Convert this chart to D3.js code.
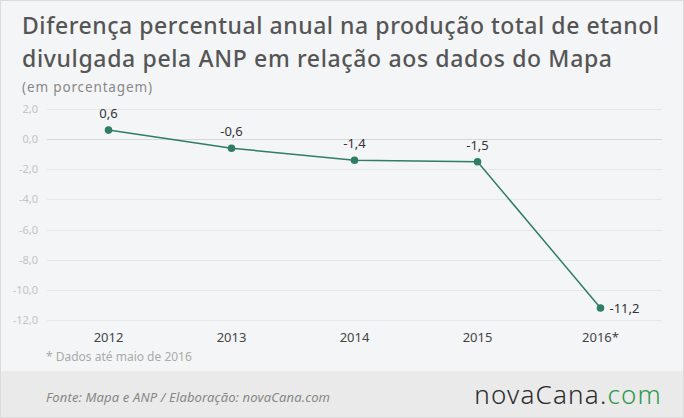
<!DOCTYPE html>
<meta charset="utf-8">
<style>
body { margin: 0; background: #fff; }
svg { display: block; font-family: "Noto Sans", sans-serif; }
.grid line { stroke: #e6e7e9; stroke-width: 1px; }
.grid line.zero { stroke: #d6d7d9; }
</style>
<body>
<svg width="684" height="418"></svg>
<script src="https://d3js.org/d3.v7.min.js"></script>
<script>
var svg = d3.select("svg"),
    width = +svg.attr("width"),
    height = +svg.attr("height");

// data
var years = ["2012", "2013", "2014", "2015", "2016*"];
var values = [0.6, -0.6, -1.4, -1.5, -11.2];
var labels = ["0,6", "-0,6", "-1,4", "-1,5", "-11,2"];
var yTicks = [2, 0, -2, -4, -6, -8, -10, -12];

var fmt = function(v) { return d3.format(".1f")(v).replace(".", ",").replace("−", "-"); };

// backgrounds
svg.append("rect")
    .attr("x", 0.5).attr("y", 0.5)
    .attr("width", width - 1).attr("height", height - 1)
    .style("fill", "#f4f5f7")
    .style("stroke", "#dcdcdc");

svg.append("rect")
    .attr("x", 1).attr("y", 371)
    .attr("width", width - 2).attr("height", height - 372)
    .style("fill", "#e9eae9");

// titles
var title = svg.append("text")
    .style("font-size", "23px")
    .style("font-weight", "500")
    .style("fill", "#555");
title.append("tspan").attr("x", 22).attr("y", 34)
    .attr("textLength", 637).attr("lengthAdjust", "spacing")
    .text("Diferença percentual anual na produção total de etanol");
title.append("tspan").attr("x", 22).attr("y", 67)
    .attr("textLength", 590).attr("lengthAdjust", "spacing")
    .text("divulgada pela ANP em relação aos dados do Mapa");

svg.append("text")
    .attr("x", 22).attr("y", 92)
    .attr("textLength", 130).attr("lengthAdjust", "spacing")
    .style("font-size", "13.5px")
    .style("fill", "#888")
    .text("(em porcentagem)");

// scales
var x = d3.scaleBand()
    .domain(years)
    .range([47, 662]);

var y = d3.scaleLinear()
    .domain([-12, 2])
    .range([320, 109]);

// gridlines
var grid = svg.append("g").attr("class", "grid");
grid.selectAll("line")
    .data(yTicks)
    .enter().append("line")
    .attr("class", function(d) { return d === 0 ? "zero" : null; })
    .attr("x1", 47).attr("x2", 662)
    .attr("y1", function(d) { return Math.round(y(d)) + 0.5; })
    .attr("y2", function(d) { return Math.round(y(d)) + 0.5; });

// y axis labels
svg.append("g").selectAll("text")
    .data(yTicks)
    .enter().append("text")
    .attr("x", 38)
    .attr("y", function(d) { return y(d) + 4; })
    .attr("text-anchor", "end")
    .style("font-size", "11px")
    .style("fill", "#c2c4c6")
    .text(fmt);

// x axis labels
svg.append("g").selectAll("text")
    .data(years)
    .enter().append("text")
    .attr("x", function(d) { return x(d) + x.bandwidth() / 2; })
    .attr("y", 342)
    .attr("text-anchor", "middle")
    .style("font-size", "13px")
    .style("fill", "#444")
    .text(function(d) { return d; });

// line
var pts = years.map(function(d, i) { return {year: d, value: values[i], label: labels[i]}; });

var line = d3.line()
    .x(function(d) { return x(d.year) + x.bandwidth() / 2; })
    .y(function(d) { return y(d.value); });

svg.append("path")
    .datum(pts)
    .attr("d", line)
    .style("fill", "none")
    .style("stroke", "#2f7d63")
    .style("stroke-width", 1.5);

svg.append("g").selectAll("circle")
    .data(pts)
    .enter().append("circle")
    .attr("cx", function(d) { return x(d.year) + x.bandwidth() / 2; })
    .attr("cy", function(d) { return y(d.value); })
    .attr("r", 3.8)
    .style("fill", "#2f7d63");

svg.append("g").selectAll("text")
    .data(pts)
    .enter().append("text")
    .attr("x", function(d, i) { return x(d.year) + x.bandwidth() / 2 + (i === pts.length - 1 ? 9 : 0); })
    .attr("y", function(d, i) { return y(d.value) + (i === pts.length - 1 ? 5 : -12); })
    .attr("text-anchor", function(d, i) { return i === pts.length - 1 ? "start" : "middle"; })
    .style("font-size", "13px")
    .style("fill", "#333")
    .text(function(d) { return d.label; });

// footnote
svg.append("text")
    .attr("x", 46).attr("y", 361)
    .style("font-size", "12px")
    .style("fill", "#aaa")
    .text("* Dados até maio de 2016");

// footer
svg.append("text")
    .attr("x", 46).attr("y", 402)
    .attr("textLength", 284).attr("lengthAdjust", "spacing")
    .style("font-size", "13px")
    .style("font-style", "italic")
    .style("fill", "#888")
    .text("Fonte: Mapa e ANP / Elaboração:  novaCana.com");

var logo = svg.append("text")
    .attr("x", 662).attr("y", 404)
    .attr("text-anchor", "end")
    .style("font-size", "26px")
    .style("font-weight", "300")
    .style("letter-spacing", "1.2px");
logo.append("tspan").style("fill", "#2b2b2b").text("novaCana.");
logo.append("tspan").style("fill", "#2f9a4a").text("com");
</script>
</body>
